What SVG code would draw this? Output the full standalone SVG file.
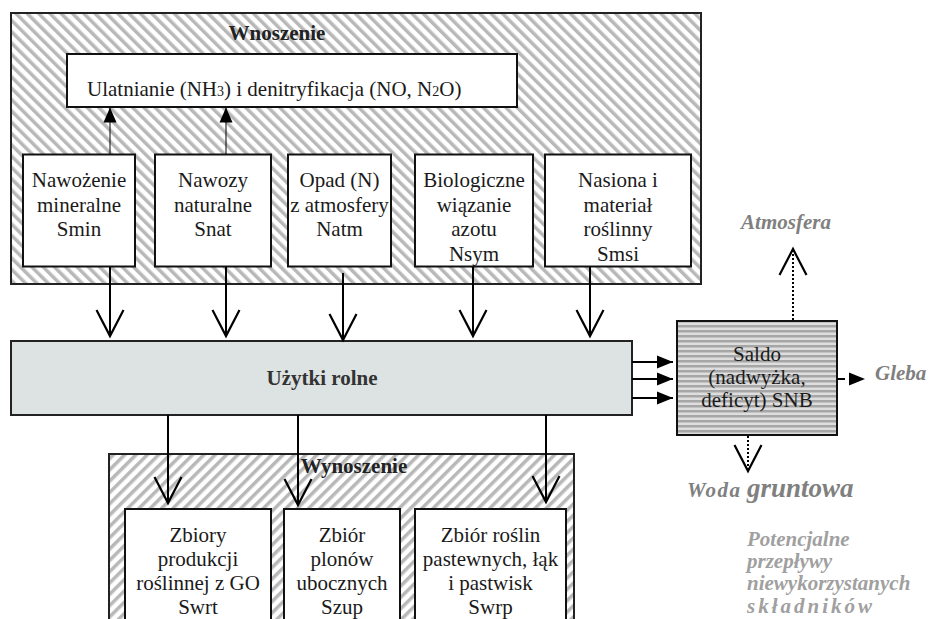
<svg xmlns="http://www.w3.org/2000/svg" width="931" height="619" viewBox="0 0 931 619">
<defs>
<pattern id="hatchA" patternUnits="userSpaceOnUse" width="8" height="8" patternTransform="rotate(-45)">
<rect width="8" height="8" fill="#ffffff"/>
<rect width="3.5" height="8" fill="#b8b8b8"/>
</pattern>
<pattern id="hatchB" patternUnits="userSpaceOnUse" width="8" height="8" patternTransform="rotate(45)">
<rect width="8" height="8" fill="#ffffff"/>
<rect width="3.5" height="8" fill="#b8b8b8"/>
</pattern>
<pattern id="hstripe" patternUnits="userSpaceOnUse" width="10" height="5">
<rect width="10" height="5" fill="#dedede"/>
<rect width="10" height="2.5" fill="#a6a6a6"/>
</pattern>
<marker id="vopen" markerUnits="userSpaceOnUse" viewBox="-28 -16 31 32" markerWidth="31" markerHeight="32" refX="0" refY="0" orient="auto">
<path d="M-26,-13.5 L0,0 L-26,13.5" fill="none" stroke="#000" stroke-width="2.2"/>
</marker>
<marker id="tri" markerUnits="userSpaceOnUse" viewBox="-17 -8 18 16" markerWidth="18" markerHeight="16" refX="0" refY="0" orient="auto">
<path d="M-16,-6.5 L0,0 L-16,6.5 Z" fill="#000"/>
</marker>
<marker id="triup" markerUnits="userSpaceOnUse" viewBox="-16 -8 17 16" markerWidth="17" markerHeight="16" refX="0" refY="0" orient="auto">
<path d="M-15,-6.5 L0,0 L-15,6.5 Z" fill="#000"/>
</marker>
</defs>
<style>
.t{font-family:"Liberation Serif","Times New Roman",serif;font-size:21px;fill:#1a1a1a;text-anchor:middle}
.b{font-weight:bold;fill:#222}
.box{fill:#fff;stroke:#111;stroke-width:2}
.outer{stroke:#222;stroke-width:2}
.ln{stroke:#000;stroke-width:2;fill:none}
.thin{stroke:#000;stroke-width:1;fill:none}
.dot{stroke:#000;stroke-width:2;fill:none;stroke-dasharray:2 2}
.g{font-family:"Liberation Serif","Times New Roman",serif;font-style:italic;font-weight:bold;font-size:21px;fill:#808080}
.g2{font-family:"Liberation Serif","Times New Roman",serif;font-style:italic;font-weight:bold;font-size:21px;fill:#a0a0a0}
</style>

<g id="wnoszenie">
<rect class="outer" x="11" y="13" width="690" height="271" fill="url(#hatchA)"/>
<text class="t b" x="277" y="40">Wnoszenie</text>
</g>

<g id="ulatnianie">
<rect class="box" x="67" y="54" width="450" height="53"/>
<text class="t" x="87" y="96" style="text-anchor:start">Ulatnianie (NH<tspan font-size="14">3</tspan>) i denitryfikacja (NO, N<tspan font-size="14">2</tspan>O)</text>
</g>

<g id="smin">
<rect class="box" x="23" y="154.5" width="112" height="112"/>
<text class="t" x="79" y="187">Nawożenie</text>
<text class="t" x="79" y="211.5">mineralne</text>
<text class="t" x="79" y="236">Smin</text>
</g>
<g id="snat">
<rect class="box" x="155" y="154.5" width="116" height="112"/>
<text class="t" x="213" y="187">Nawozy</text>
<text class="t" x="213" y="211.5">naturalne</text>
<text class="t" x="213" y="236">Snat</text>
</g>
<g id="natm">
<rect class="box" x="288" y="154.5" width="103" height="112"/>
<text class="t" x="339.5" y="187">Opad (N)</text>
<text class="t" x="339.5" y="211.5">z atmosfery</text>
<text class="t" x="339.5" y="236">Natm</text>
</g>
<g id="nsym">
<rect class="box" x="415" y="154.5" width="118" height="112"/>
<text class="t" x="474" y="187">Biologiczne</text>
<text class="t" x="474" y="211.5">wiązanie</text>
<text class="t" x="474" y="236">azotu</text>
<text class="t" x="474" y="260.5">Nsym</text>
</g>
<g id="smsi">
<rect class="box" x="545" y="154.5" width="146" height="112"/>
<text class="t" x="618" y="187">Nasiona i</text>
<text class="t" x="618" y="211.5">materiał</text>
<text class="t" x="618" y="236">roślinny</text>
<text class="t" x="618" y="260.5">Smsi</text>
</g>

<g id="uzytki">
<rect x="11" y="341" width="621" height="74" fill="#dce3e2" stroke="#222" stroke-width="2"/>
<text class="t b" x="322" y="385" style="fill:#333">Użytki rolne</text>
</g>

<g id="saldo">
<rect x="677" y="321" width="160" height="114" fill="url(#hstripe)" stroke="#111" stroke-width="2"/>
<text class="t" x="757" y="361">Saldo</text>
<text class="t" x="757" y="384">(nadwyżka,</text>
<text class="t" x="757" y="407">deficyt) SNB</text>
</g>

<g id="wynoszenie">
<rect class="outer" x="109" y="454" width="465" height="190" fill="url(#hatchB)"/>
<text class="t b" x="354" y="473">Wynoszenie</text>
</g>
<g id="swrt">
<rect class="box" x="125" y="509" width="146" height="130"/>
<text class="t" x="198" y="542">Zbiory</text>
<text class="t" x="198" y="566">produkcji</text>
<text class="t" x="198" y="590">roślinnej z GO</text>
<text class="t" x="198" y="614">Swrt</text>
</g>
<g id="szup">
<rect class="box" x="284" y="509" width="116" height="130"/>
<text class="t" x="342" y="542">Zbiór</text>
<text class="t" x="342" y="566">plonów</text>
<text class="t" x="342" y="590">ubocznych</text>
<text class="t" x="342" y="614">Szup</text>
</g>
<g id="swrp">
<rect class="box" x="415" y="509" width="151" height="130"/>
<text class="t" x="490.5" y="542">Zbiór roślin</text>
<text class="t" x="490.5" y="566">pastewnych, łąk</text>
<text class="t" x="490.5" y="590">i pastwisk</text>
<text class="t" x="490.5" y="614">Swrp</text>
</g>

<g id="labels">
<text class="g" x="786" y="229" style="text-anchor:middle">Atmosfera</text>
<text class="g" x="875" y="380">Gleba</text>
<text class="g" x="687" y="497" font-size="22"><tspan letter-spacing="1.5">Woda</tspan> <tspan font-size="27">gruntowa</tspan></text>
<text class="g2" x="747" y="546">Potencjalne</text>
<text class="g2" x="747" y="568">przepływy</text>
<text class="g2" x="747" y="590">niewykorzystanych</text>
<text class="g2" x="747" y="613" font-size="23" letter-spacing="3">składników</text>
</g>

<g id="connectors">
<line class="thin" x1="110" y1="154" x2="110" y2="107.5" marker-end="url(#triup)"/>
<line class="thin" x1="226" y1="154" x2="226" y2="107.5" marker-end="url(#triup)"/>
<line class="ln" x1="110" y1="267" x2="110" y2="336" marker-end="url(#vopen)"/>
<line class="ln" x1="226" y1="267" x2="226" y2="336" marker-end="url(#vopen)"/>
<line class="ln" x1="343" y1="273" x2="343" y2="340" marker-end="url(#vopen)"/>
<line class="ln" x1="473" y1="267" x2="473" y2="336" marker-end="url(#vopen)"/>
<line class="ln" x1="590" y1="267" x2="590" y2="336" marker-end="url(#vopen)"/>
<line class="ln" x1="168" y1="415" x2="168" y2="503" marker-end="url(#vopen)"/>
<line class="ln" x1="298" y1="415" x2="298" y2="505" marker-end="url(#vopen)"/>
<line class="ln" x1="546" y1="415" x2="546" y2="502" marker-end="url(#vopen)"/>
<line class="ln" x1="632" y1="362" x2="673" y2="362" marker-end="url(#tri)"/>
<line class="ln" x1="632" y1="379" x2="673" y2="379" marker-end="url(#tri)"/>
<line class="ln" x1="632" y1="398" x2="673" y2="398" marker-end="url(#tri)"/>
<line class="dot" x1="793" y1="320" x2="793" y2="249" marker-end="url(#vopen)"/>
<line class="dot" x1="748" y1="436" x2="748" y2="471" marker-end="url(#vopen)"/>
<line class="ln" x1="837" y1="379" x2="845" y2="379"/>
<path d="M849,372.5 L865,379 L849,385.5 Z" fill="#000"/>
</g>
</svg>
